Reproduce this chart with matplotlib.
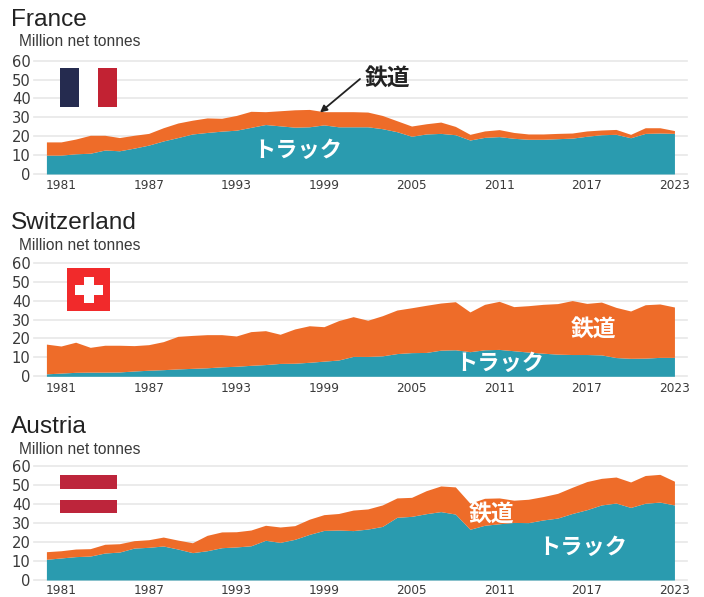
import matplotlib
matplotlib.use("Agg")
import matplotlib.pyplot as plt
import matplotlib.patches as mpatches
import numpy as np

W, H = 704, 597

plt.rcParams.update({
    "font.family": ["Noto Sans CJK JP", "DejaVu Sans"],
    "font.size": 10,
})

TEAL = "#2A9BAF"
ORANGE = "#EE6C29"
GRID = "#E8E8E8"
INK = "#3A3A3A"

YEARS = list(range(1980, 2024))
XTICKS = [1981, 1987, 1993, 1999, 2005, 2011, 2017, 2023]
YTICKS = [0, 10, 20, 30, 40, 50, 60]

FRANCE_TRUCK = [10, 10, 10.7, 11, 12.7, 12.3, 13.7, 15.3, 17.5, 19.3, 21.2,
                22, 22.7, 23.2, 24.7, 26.2, 25.5, 24.8, 25, 26, 25,
                25, 25, 24, 22.4, 20, 21.2, 21.5, 20.8, 18, 19.4,
                19.8, 18.9, 18.4, 18.4, 18.7, 19, 20, 20.8, 21, 19.2,
                21.5, 21.7, 21.5]
FRANCE_TOTAL = [17, 17, 18.5, 20.5, 20.5, 19.3, 20.5, 21.5, 24.5, 27, 28.5,
                29.7, 29.5, 31, 33.2, 33, 33.5, 34, 34.2, 33, 33,
                33, 32.8, 31, 28.2, 25.4, 26.6, 27.5, 25.2, 21, 22.8,
                23.5, 22, 21.2, 21.2, 21.5, 21.7, 22.8, 23.3, 23.6, 21,
                24.5, 24.5, 23]

SWISS_TRUCK = [1.3, 1.7, 2.1, 2.2, 2.2, 2.3, 2.8, 3.2, 3.5, 3.9, 4.2,
               4.5, 5, 5.3, 5.8, 6.2, 6.8, 6.9, 7.4, 8, 8.6,
               10.5, 10.5, 10.8, 12, 12.5, 12.6, 13.8, 14, 13, 14,
               14.2, 13.5, 12.8, 12.2, 11.7, 11.5, 11.5, 11.3, 9.9, 9.5,
               9.6, 10, 10]
SWISS_TOTAL = [17, 16, 18, 15.3, 16.4, 16.4, 16.2, 16.7, 18.3, 21.1, 21.6,
               22, 22, 21.3, 23.6, 24.1, 22.2, 25, 26.7, 26.2, 29.4,
               31.5, 29.6, 32, 35, 36.2, 37.5, 38.7, 39.4, 34, 38,
               39.6, 36.8, 37.3, 38, 38.4, 40, 38.5, 39.2, 36.4, 34.5,
               37.8, 38.2, 36.6]

AUSTRIA_TRUCK = [10.9, 11.6, 12.3, 12.6, 14.2, 14.7, 16.8, 17.2, 17.9, 16.3, 14.4,
                 15.4, 17, 17.4, 18, 20.9, 19.8, 21.4, 24, 26.1, 26.3,
                 26, 26.8, 28.2, 33, 33.5, 34.9, 36, 34.7, 26.7, 28.8,
                 29.6, 30.3, 30.2, 31.6, 32.6, 35, 37, 39.5, 40.5, 38.2,
                 40.4, 41, 39.5]
AUSTRIA_TOTAL = [14.9, 15.4, 16.3, 16.5, 18.8, 19.1, 20.7, 21.2, 22.6, 21, 19.6,
                 23.5, 25.3, 25.4, 26.3, 28.8, 27.9, 28.6, 32, 34.4, 35,
                 36.8, 37.4, 39.5, 43.2, 43.5, 47, 49.5, 49, 40.4, 43,
                 43.2, 42, 42.5, 43.9, 45.6, 48.8, 51.8, 53.5, 54.2, 51.6,
                 55, 55.6, 52]


def px_rect(fig, x0, y0, x1, y1, color, zorder=5):
    # pixel box measured from the top-left of the picture
    fig.add_artist(mpatches.Rectangle(
        (x0 / W, 1 - y1 / H), (x1 - x0) / W, (y1 - y0) / H,
        transform=fig.transFigure, fc=color, ec="none", zorder=zorder))


def px_text(fig, x, y, s, **kw):
    return fig.text(x / W, 1 - y / H, s, zorder=7, **kw)


def panel(fig, name, truck, total, top, zero, title_y, unit_y, xpad=3.8):
    ax = fig.add_axes([34 / W, 1 - zero / H, (687 - 34) / W, (zero - top) / H])
    ax.patch.set_alpha(0)
    for s in ax.spines.values():
        s.set_visible(False)

    for v in YTICKS:
        ax.axhline(v, color=GRID, lw=1.2, zorder=1, clip_on=False)

    ax.fill_between(YEARS, 0, truck, color=TEAL, lw=0, zorder=3)
    ax.fill_between(YEARS, truck, total, color=ORANGE, lw=0, zorder=3)

    ax.set_xlim(1979.15, 2023.86)
    ax.set_ylim(0, 60)
    ax.set_xticks(XTICKS)
    ax.set_xticklabels(XTICKS, family="DejaVu Sans", fontsize=8.7, color=INK)
    ax.set_yticks(YTICKS)
    ax.set_yticklabels(YTICKS, family="DejaVu Sans", fontsize=10.6, color=INK)
    ax.tick_params(length=0)
    ax.tick_params(axis="x", pad=xpad)
    ax.tick_params(axis="y", pad=2.5)

    px_text(fig, 11, title_y, name, family="Liberation Sans", fontsize=17.6,
            color="#222222", ha="left", va="center")
    px_text(fig, 19, unit_y, "Million net tonnes", family="Liberation Sans",
            fontsize=11.2, color=INK, ha="left", va="center")
    return ax


fig = plt.figure(figsize=(W / 100, H / 100), dpi=100, facecolor="white")

panel(fig, "France", FRANCE_TRUCK, FRANCE_TOTAL, 60.7, 174, 20, 42)
panel(fig, "Switzerland", SWISS_TRUCK, SWISS_TOTAL, 262.7, 376.3, 223, 245)
panel(fig, "Austria", AUSTRIA_TRUCK, AUSTRIA_TOTAL, 466, 580, 427, 449, xpad=2.6)

# flags
px_rect(fig, 60, 68, 79, 107, "#252B4F")
px_rect(fig, 79, 68, 98, 107, "white")
px_rect(fig, 98, 68, 117, 107, "#C22233")

px_rect(fig, 67, 268, 110, 311, "#F12A2B")
px_rect(fig, 83.5, 277, 93.5, 303, "white", zorder=6)
px_rect(fig, 74.5, 285, 102.5, 294.5, "white", zorder=6)

px_rect(fig, 60, 475, 117, 488.5, "#BD253B")
px_rect(fig, 60, 488.5, 117, 500, "white")
px_rect(fig, 60, 500, 117, 513, "#BD253B")

# series labels
KANJI = dict(fontsize=16.4, fontweight="bold", ha="center", va="center")
KANA = dict(fontsize=16, fontweight="bold", ha="center", va="center")
px_text(fig, 387.5, 78, "鉄道", color="#222222", **KANJI)
px_text(fig, 298, 150, "トラック", color="white", **KANA)
px_text(fig, 593.5, 329, "鉄道", color="white", **KANJI)
px_text(fig, 499.5, 363, "トラック", color="white", **KANA)
px_text(fig, 491.5, 514, "鉄道", color="white", **KANJI)
px_text(fig, 582.5, 547, "トラック", color="white", **KANA)

arrow = mpatches.FancyArrowPatch(
    (360 / W, 1 - 79 / H), (320 / W, 1 - 112.5 / H),
    transform=fig.transFigure, arrowstyle="-|>", mutation_scale=10,
    lw=1.3, color="#222222", shrinkA=0, shrinkB=0, zorder=7)
fig.add_artist(arrow)

fig.savefig("out.png", dpi=100, facecolor="white")
plt.close(fig)
